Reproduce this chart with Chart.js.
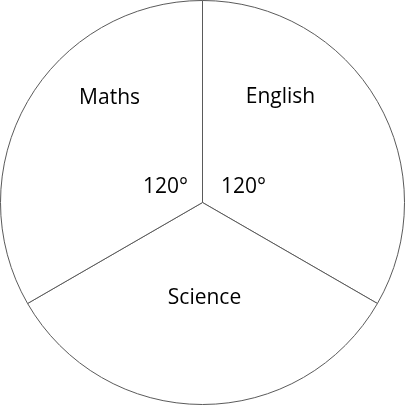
<!DOCTYPE html>
<html>
<head>
<meta charset="utf-8">
<script src="https://cdn.jsdelivr.net/npm/chart.js@4/dist/chart.umd.min.js"></script>
<style>
  html, body { margin: 0; padding: 0; background: #fff; }
  #pie { display: block; }
</style>
</head>
<body>
<canvas id="pie" width="405" height="405"></canvas>
<script>
// subjects, clockwise from 12 o'clock
var subjects = ['English', 'Science', 'Maths'];
var degrees = [120, 120, 120];
var angleText = ['120°', '', '120°'];

// where the text sits, as fractions of the radius from the centre
var nameOffset = [[0.386, -0.52], [0.01, 0.475], [-0.46, -0.515]];
var angleOffset = [[0.203, -0.079], [0, 0], [-0.183, -0.079]];

var pieText = {
    id: 'pieText',
    afterDatasetsDraw: function (chart) {
        var ctx = chart.ctx;
        var arcs = chart.getDatasetMeta(0).data;
        ctx.save();
        ctx.fillStyle = '#000';
        ctx.font = '21px "Open Sans", sans-serif';
        ctx.textAlign = 'center';
        ctx.textBaseline = 'middle';
        arcs.forEach(function (arc, i) {
            var r = arc.outerRadius;
            ctx.fillText(subjects[i], arc.x + nameOffset[i][0] * r, arc.y + nameOffset[i][1] * r);
            if (angleText[i] != '') {
                ctx.fillText(angleText[i], arc.x + angleOffset[i][0] * r, arc.y + angleOffset[i][1] * r);
            }
        });
        ctx.restore();
    }
};

var myPie = new Chart(document.getElementById('pie'), {
    type: 'pie',
    data: {
        labels: subjects,
        datasets: [{
            data: degrees,
            backgroundColor: '#ffffff',
            borderColor: '#5a5a5a',
            borderWidth: 1
        }]
    },
    options: {
        responsive: false,
        animation: false,
        layout: { padding: 0 },
        plugins: {
            legend: { display: false },
            tooltip: { enabled: false }
        }
    },
    plugins: [pieText]
});
</script>
</body>
</html>
